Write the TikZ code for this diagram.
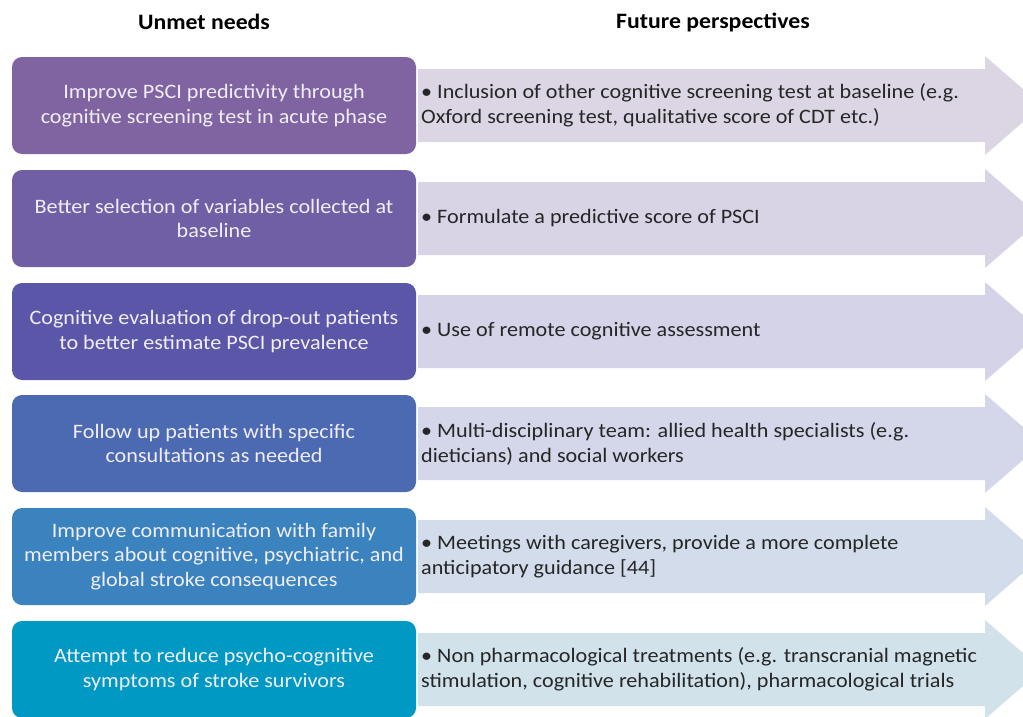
\documentclass[tikz,border=0pt]{standalone}
\usepackage{fontspec}
\setmainfont{Carlito}[FakeStretch=1.08]
\definecolor{b1}{HTML}{8064A2}
\definecolor{b2}{HTML}{705FA4}
\definecolor{b3}{HTML}{5B57A8}
\definecolor{b4}{HTML}{4C6AB1}
\definecolor{b5}{HTML}{3A83BF}
\definecolor{b6}{HTML}{0099C4}
\definecolor{a1}{HTML}{DCD6E4}
\definecolor{a2}{HTML}{D8D4E6}
\definecolor{a3}{HTML}{D4D3E8}
\definecolor{a4}{HTML}{D3D7E9}
\definecolor{a5}{HTML}{D2DCEA}
\definecolor{a6}{HTML}{D1E2EA}
\definecolor{boxtext}{HTML}{F0EDF5}
\definecolor{arrtext}{HTML}{262626}
\tikzset{
  needbox/.style={draw=none, rounded corners=10pt, minimum width=404pt, minimum height=97pt,
    align=center, text=boxtext, inner sep=0pt, font=\fontsize{20.5}{24.5}\selectfont},
  persptext/.style={anchor=west, align=left, text=arrtext, inner sep=0pt,
    font=\fontsize{20.5}{25}\selectfont},
  header/.style={font=\fontsize{22}{26}\selectfont\bfseries, text=black, inner sep=0pt}
}
\newcommand{\perarrow}[2]{% top y, colour
  \fill[#2] (418,#1+12) -- (985,#1+12) -- (985,#1-1) -- (1042,#1+48.5)
    -- (985,#1+98) -- (985,#1+85) -- (418,#1+85) -- cycle;}
\begin{document}
\begin{tikzpicture}[x=1pt,y=-1pt]
\useasboundingbox (0,0) rectangle (1023,716);
\clip (0,0) rectangle (1023,716);
\node[header] (h1) at (204,22) {Unmet needs};
\node[header] (h2) at (713,22) {Future perspectives};

\perarrow{57}{a1}
\perarrow{170}{a2}
\perarrow{283}{a3}
\perarrow{395}{a4}
\perarrow{508}{a5}
\perarrow{621}{a6}

\node[needbox, fill=b1] (n1) at (214,105.5) {Improve PSCI predictivity through\\cognitive screening test in acute phase};
\node[needbox, fill=b2] (n2) at (214,218.5) {Better selection of variables collected at\\baseline};
\node[needbox, fill=b3] (n3) at (214,331.5) {Cognitive evaluation of drop-out patients\\to better estimate PSCI prevalence};
\node[needbox, fill=b4] (n4) at (214,443.5) {Follow up patients with specific\\consultations as needed};
\node[needbox, fill=b5] (n5) at (214,556.5) {Improve communication with family\\members about cognitive, psychiatric, and\\global stroke consequences};
\node[needbox, fill=b6] (n6) at (214,669.5) {Attempt to reduce psycho-cognitive\\symptoms of stroke survivors};

\node[persptext] (p1) at (421,105.5) {• Inclusion of other cognitive screening test at baseline (e.g.\\Oxford screening test, qualitative score of CDT etc.)};
\node[persptext] (p2) at (421,218.5) {• Formulate a predictive score of PSCI};
\node[persptext] (p3) at (421,331.5) {• Use of remote cognitive assessment};
\node[persptext] (p4) at (421,443.5) {• Multi-disciplinary team: allied health specialists (e.g.\\dieticians) and social workers};
\node[persptext] (p5) at (421,556.5) {• Meetings with caregivers, provide a more complete\\anticipatory guidance [44]};
\node[persptext] (p6) at (421,669.5) {• Non pharmacological treatments (e.g. transcranial magnetic\\stimulation, cognitive rehabilitation), pharmacological trials};
\end{tikzpicture}
\end{document}
